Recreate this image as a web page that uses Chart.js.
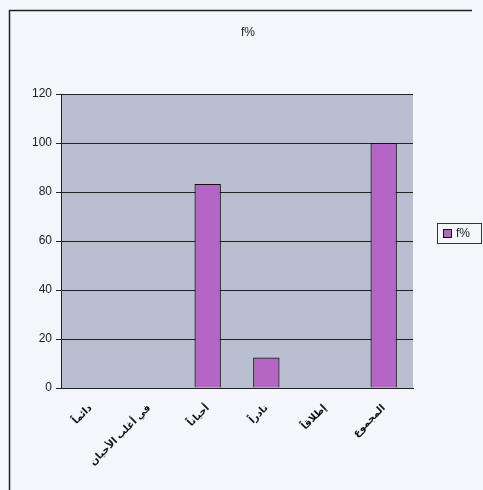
<!DOCTYPE html>
<html>
<head>
<meta charset="utf-8">
<script src="https://cdn.jsdelivr.net/npm/chart.js@4/dist/chart.umd.min.js"></script>
<style>
  html, body { margin: 0; padding: 0; background: #f4f6fb; }
  #wrap { position: relative; width: 483px; height: 490px; }
</style>
</head>
<body>
<div id="wrap"><canvas id="c" width="483" height="490"></canvas></div>
<script>
// datos del grafico
const categorias = ["دائماً", "في أغلب الأحيان", "أحياناً", "نادراً", "إطلاقاً", "المجموع"];
const valores = [0, 0, 83.3, 12.5, 0, 100];
const ticksY = [0, 20, 40, 60, 80, 100, 120];
const serieNombre = "f%";
const titulo = "f%";

const colorBarra = "#b565c4";
const fondoPlot = "#b8bfd1";

/* marco exterior, titulo, fondo del area de trazado y leyenda con caja */
const marcoPlugin = {
  id: "marco",
  beforeDraw(chart) {
    const ctx = chart.ctx, a = chart.chartArea;
    ctx.save();
    ctx.fillStyle = fondoPlot;
    ctx.fillRect(a.left, a.top, a.right - a.left, a.bottom - a.top);
    ctx.strokeStyle = "#222";
    ctx.lineWidth = 1.5;
    ctx.beginPath();
    ctx.moveTo(9.5, 490);
    ctx.lineTo(9.5, 10.5);
    ctx.lineTo(472, 10.5);
    ctx.stroke();
    // titulo centrado en el marco
    ctx.fillStyle = "#222";
    ctx.font = "12px Arial, 'Liberation Sans'";
    ctx.textAlign = "center";
    ctx.textBaseline = "middle";
    ctx.fillText(titulo, 248, 33);
    ctx.restore();
  },
  afterDraw(chart) {
    const ctx = chart.ctx;
    const ds = chart.data.datasets[0];
    ctx.save();
    ctx.strokeStyle = "#333";
    ctx.lineWidth = 1;
    ctx.strokeRect(437.5, 223.5, 44, 20);
    ctx.fillStyle = ds.backgroundColor;
    ctx.fillRect(443.5, 229.5, 8, 8);
    ctx.strokeStyle = "#111";
    ctx.strokeRect(443.5, 229.5, 8, 8);
    ctx.fillStyle = "#222";
    ctx.font = "12px Arial, 'Liberation Sans'";
    ctx.textBaseline = "middle";
    ctx.fillText(ds.label, 456, 234);
    ctx.restore();
  }
};

new Chart(document.getElementById("c").getContext("2d"), {
  type: "bar",
  data: {
    labels: categorias,
    datasets: [{
      label: serieNombre,
      data: valores,
      backgroundColor: colorBarra,
      borderColor: "#111",
      borderWidth: 1.2,
      barPercentage: 0.45,
      categoryPercentage: 1
    }]
  },
  options: {
    responsive: false,
    animation: false,
    layout: { padding: { top: 94, left: 28, right: 70, bottom: 16 } },
    plugins: {
      title: { display: false },
      legend: { display: false },
      tooltip: { enabled: false }
    },
    scales: {
      x: {
        grid: { display: false, drawTicks: true },
        border: { color: "#222" },
        ticks: {
          maxRotation: 45,
          minRotation: 45,
          color: "#111",
          padding: 6,
          font: { family: "'Noto Sans', 'DejaVu Sans'", size: 10, weight: "bold" }
        }
      },
      y: {
        min: 0,
        max: 120,
        afterBuildTicks(axis) { axis.ticks = ticksY.map(v => ({ value: v })); },
        grid: { color: "#222", lineWidth: 1, tickLength: 5 },
        border: { color: "#222" },
        ticks: {
          color: "#222",
          padding: 4,
          font: { family: "Arial, 'Liberation Sans'", size: 12 }
        }
      }
    }
  },
  plugins: [marcoPlugin]
});
</script>
</body>
</html>
